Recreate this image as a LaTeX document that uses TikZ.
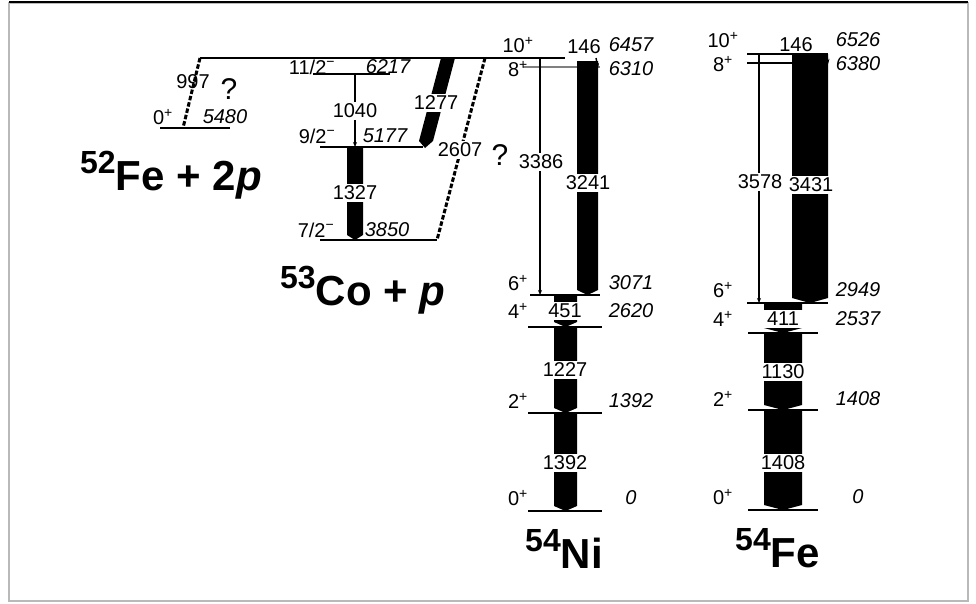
\documentclass[tikz,border=0pt]{standalone}
\usepackage{fontspec}
\setmainfont{Liberation Sans}
\usetikzlibrary{arrows.meta, calc}
\newcommand{\gammabar}[4]{\fill (#1,#3) -- (#2,#3) -- (#2,#4-5) -- ({(#1+#2)/2},#4) -- (#1,#4-5) -- cycle;}
\newcommand{\sps}[1]{\textsuperscript{#1}}

\begin{document}
\begin{tikzpicture}[x=1pt, y=-1pt,
    level/.style={line width=1.6pt},
    feedline/.style={line width=1.1pt, -{Stealth[length=5pt, width=4pt]}},
    protline/.style={line width=3pt, dash pattern=on 4.5pt off 2pt},
    spinlab/.style={font=\fontsize{20}{20}\selectfont, inner sep=0pt},
    enlab/.style={font=\fontsize{20}{20}\selectfont\itshape, inner sep=0pt},
    gamlab/.style={font=\fontsize{20}{20}\selectfont, fill=white, inner xsep=2.5pt, inner ysep=2pt},
    nuclab/.style={font=\fontsize{42}{42}\selectfont\bfseries, inner sep=0pt, anchor=base west},
    qmark/.style={font=\fontsize{30}{30}\selectfont, inner sep=0pt}
]
  \useasboundingbox (0,0) rectangle (976,603);
  % frame
  \draw[gray!55, line width=2pt] (9,3) rectangle (968,601);
  \draw[line width=1.5pt] (9,2) -- (968,2);

  % 52Fe + 2p
  \coordinate (fe52L) at (160,128); \coordinate (fe52R) at (230,128);
  \coordinate (topL) at (200,58);   \coordinate (topR) at (565,58);
  \draw[level] (fe52L) -- (fe52R);
  \draw[level] (topL) -- (topR);
  \draw[protline] (topL) -- (183,128);
  \node[spinlab] (fe52s) at (163,117) {0\sps{+}};
  \node[enlab] (fe52e) at (225,117) {5480};
  \node[spinlab] (g997) at (193,82) {997};
  \node[qmark] (q1) at (229,89) {?};
  \node[nuclab] (fe52n) at (80,190) {\raisebox{17pt}{\fontsize{32}{32}\selectfont 52}Fe + 2\textit{p}};

  % 53Co + p
  \draw[level] (313,74) -- (390,74);
  \draw[level] (320,147) -- (423,147);
  \draw[level] (320,240) -- (437,240);
  \coordinate (co11) at (355,74); \coordinate (co9) at (355,147);
  \draw[feedline] (co11) -- (co9);
  \node[gamlab] (g1040) at (355,111) {1040};
  \gammabar{347}{363}{147}{240}
  \node[gamlab] (g1327) at (355,193) {1327};
  \fill (441,58) -- (455,58) -- (433,141) -- (425,148) -- (419,141) -- cycle;
  \node[gamlab] (g1277) at (436,103) {1277};
  \coordinate (p2607a) at (485,58); \coordinate (p2607b) at (437,240);
  \draw[protline] (p2607a) -- (p2607b);
  \node[gamlab] (g2607) at (460,150) {2607};
  \node[qmark] (q2) at (500,155) {?};
  \node[spinlab] (co11s) at (312,67) {11/2\sps{−}};
  \node[enlab] (co11e) at (388,67) {6217};
  \node[spinlab] (co9s) at (317,136) {9/2\sps{−}};
  \node[enlab] (co9e) at (385,136) {5177};
  \node[spinlab] (co7s) at (316,230) {7/2\sps{−}};
  \node[enlab] (co7e) at (387,230) {3850};
  \node[nuclab] (co53n) at (280,305) {\raisebox{17pt}{\fontsize{32}{32}\selectfont 53}Co + \textit{p}};

  % 54Ni
  \draw[level, gray] (523,67) -- (600,67);
  \foreach \y/\xa/\xb in {295/530/600, 327/528/602, 413/528/602, 511/528/602}{
    \draw[level] (\xa,\y) -- (\xb,\y);
  }
  \draw[feedline] (540,58) -- (540,295);
  \node[gamlab] (g3386) at (541,162) {3386};
  \gammabar{577}{598}{61}{295}
  \node[gamlab] (g3241) at (588,183) {3241};
  \draw[feedline, line width=1.4pt] (596,58) -- (598,68);
  \node[spinlab] (g146a) at (584,47) {146};
  \gammabar{554}{577}{295}{327}
  \node[gamlab, inner xsep=5pt] (g451) at (565,311) {451};
  \gammabar{554}{577}{327}{413}
  \node[gamlab] (g1227) at (565,370) {1227};
  \gammabar{554}{577}{413}{511}
  \node[gamlab] (g1392) at (565,463) {1392};
  \foreach \y/\s/\e in {45/10/6457, 69/8/6310, 283/6/3071, 311/4/2620, 401/2/1392, 498/0/0}{
    \node[spinlab] (ni\s s) at (518,\y) {\s\sps{+}};
    \node[enlab] (ni\s e) at (631,\y) {\e};
  }
  \node[nuclab] (ni54n) at (525,568) {\raisebox{17pt}{\fontsize{32}{32}\selectfont 54}Ni};

  % 54Fe
  \draw[level] (747,54) -- (828,54);
  \draw[level] (747,63) -- (792,63);
  \draw[level] (747,303) -- (828,303);
  \foreach \y in {333, 410, 510}{
    \draw[level] (748,\y) -- (818,\y);
  }
  \draw[feedline] (759,54) -- (759,303);
  \node[gamlab] (g3578) at (760,182) {3578};
  \gammabar{792}{828}{54}{303}
  \node[gamlab] (g3431) at (811,185) {3431};
  \draw[feedline, line width=1.4pt] (827,55) -- (828,64);
  \node[spinlab] (g146b) at (796,45) {146};
  \gammabar{764}{802}{303}{333}
  \node[gamlab, inner xsep=6pt] (g411) at (783,319) {411};
  \gammabar{764}{802}{333}{410}
  \node[gamlab] (g1130) at (783,372) {1130};
  \gammabar{764}{802}{410}{510}
  \node[gamlab] (g1408) at (783,463) {1408};
  \foreach \y/\s/\e in {40/10/6526, 64/8/6380, 290/6/2949, 319/4/2537, 399/2/1408, 497/0/0}{
    \node[spinlab] (fe\s s) at (723,\y) {\s\sps{+}};
    \node[enlab] (fe\s e) at (858,\y) {\e};
  }
  \node[nuclab] (fe54n) at (735,567) {\raisebox{17pt}{\fontsize{32}{32}\selectfont 54}Fe};
\end{tikzpicture}
\end{document}
